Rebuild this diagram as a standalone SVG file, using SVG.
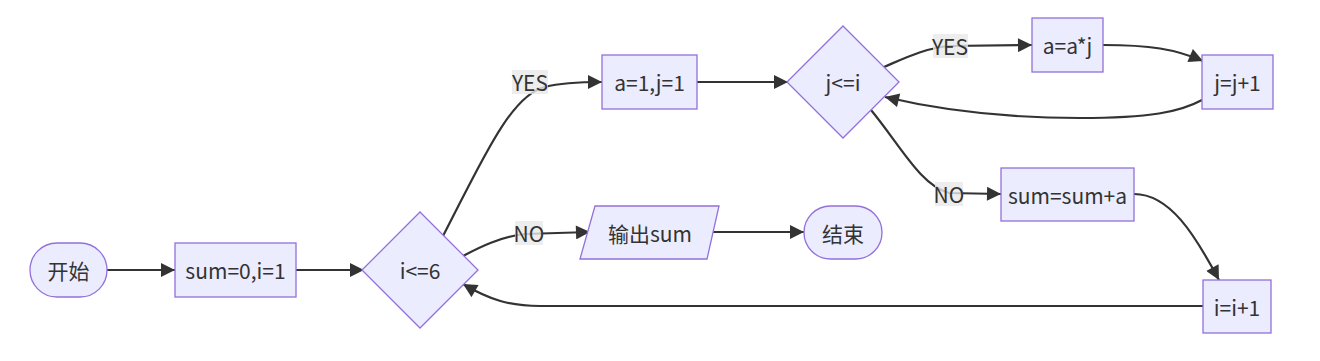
<svg xmlns="http://www.w3.org/2000/svg" width="1320" height="361" viewBox="0 0 1320 361">
<style>
.node{fill:#ECECFF;stroke:#9370DB;stroke-width:1.3}
.t{font-family:"Noto Sans CJK SC","Noto Sans",sans-serif;font-size:21px;fill:#333;text-anchor:middle;dominant-baseline:central}
.e{fill:none;stroke:#333;stroke-width:2.2}
.lb{fill:#e8e8e8;opacity:0.8}
</style>
<defs>
<marker id="arr" viewBox="0 0 10 10" refX="10" refY="5" markerWidth="15" markerHeight="14" markerUnits="userSpaceOnUse" orient="auto">
<path d="M0,0 L10,5 L0,10 z" fill="#333"/>
</marker>
</defs>
<rect width="1320" height="361" fill="#fff"/>
<g id="edges">
<path class="e" d="M107,270 L175,270" marker-end="url(#arr)"/>
<path class="e" d="M296,270 L364,270" marker-end="url(#arr)"/>
<path class="e" d="M443,236 C480,165 510,95 545,87 C560,83 575,82 602,82" marker-end="url(#arr)"/>
<path class="e" d="M463,256 C480,247 500,237 525,234 L590,232" marker-end="url(#arr)"/>
<path class="e" d="M710,232 L804,232" marker-end="url(#arr)"/>
<path class="e" d="M697,82 L788,82" marker-end="url(#arr)"/>
<path class="e" d="M884,67 C905,58 925,48 950,46 L1032,45" marker-end="url(#arr)"/>
<path class="e" d="M1103,45 C1150,45 1175,49 1203,61" marker-end="url(#arr)"/>
<path class="e" d="M1202,100 C1180,112 1150,118 1080,118 C1000,118 940,110 885,97" marker-end="url(#arr)"/>
<path class="e" d="M871,110 C900,145 920,185 949,193 L1001,194" marker-end="url(#arr)"/>
<path class="e" d="M1134,194 C1170,194 1195,235 1219,280" marker-end="url(#arr)"/>
<path class="e" d="M1203,306 L540,306 C510,306 490,300 463,284" marker-end="url(#arr)"/>
</g>
<g id="edge-labels">
<g id="l-yes1"><rect class="lb" x="512" y="70" width="36" height="24"/><text class="t" x="530" y="82">YES</text></g>
<g id="l-no1"><rect class="lb" x="515" y="221" width="28" height="24"/><text class="t" x="529" y="233">NO</text></g>
<g id="l-yes2"><rect class="lb" x="933" y="34" width="35" height="24"/><text class="t" x="950" y="46">YES</text></g>
<g id="l-no2"><rect class="lb" x="935" y="182" width="28" height="24"/><text class="t" x="949" y="194">NO</text></g>
</g>
<g id="start"><rect class="node" x="30" y="243" width="77" height="54" rx="27" ry="27"/><text class="t" x="68.5" y="270">开始</text></g>
<g id="init"><rect class="node" x="175" y="243" width="121" height="54"/><text class="t" x="235.5" y="270">sum=0,i=1</text></g>
<g id="cond1"><polygon class="node" points="420,212 478,270 420,328 362,270"/><text class="t" x="420" y="270">i&lt;=6</text></g>
<g id="init2"><rect class="node" x="602" y="55" width="95" height="54"/><text class="t" x="649.5" y="82">a=1,j=1</text></g>
<g id="cond2"><polygon class="node" points="843,26 899,82 843,138 787,82"/><text class="t" x="843" y="82">j&lt;=i</text></g>
<g id="mul"><rect class="node" x="1032" y="18" width="71" height="54"/><text class="t" x="1067.5" y="45">a=a*j</text></g>
<g id="incj"><rect class="node" x="1202" y="55" width="71" height="54"/><text class="t" x="1237.5" y="82">j=j+1</text></g>
<g id="add"><rect class="node" x="1001" y="168" width="133" height="53"/><text class="t" x="1067.5" y="194.5">sum=sum+a</text></g>
<g id="inci"><rect class="node" x="1203" y="280" width="68" height="53"/><text class="t" x="1237" y="306.5">i=i+1</text></g>
<g id="out"><polygon class="node" points="595,206 719,206 707,259 580,259"/><text class="t" x="650" y="232.5">输出sum</text></g>
<g id="end"><rect class="node" x="804" y="206" width="78" height="53" rx="26.5" ry="26.5"/><text class="t" x="843" y="232.5">结束</text></g>
</svg>
